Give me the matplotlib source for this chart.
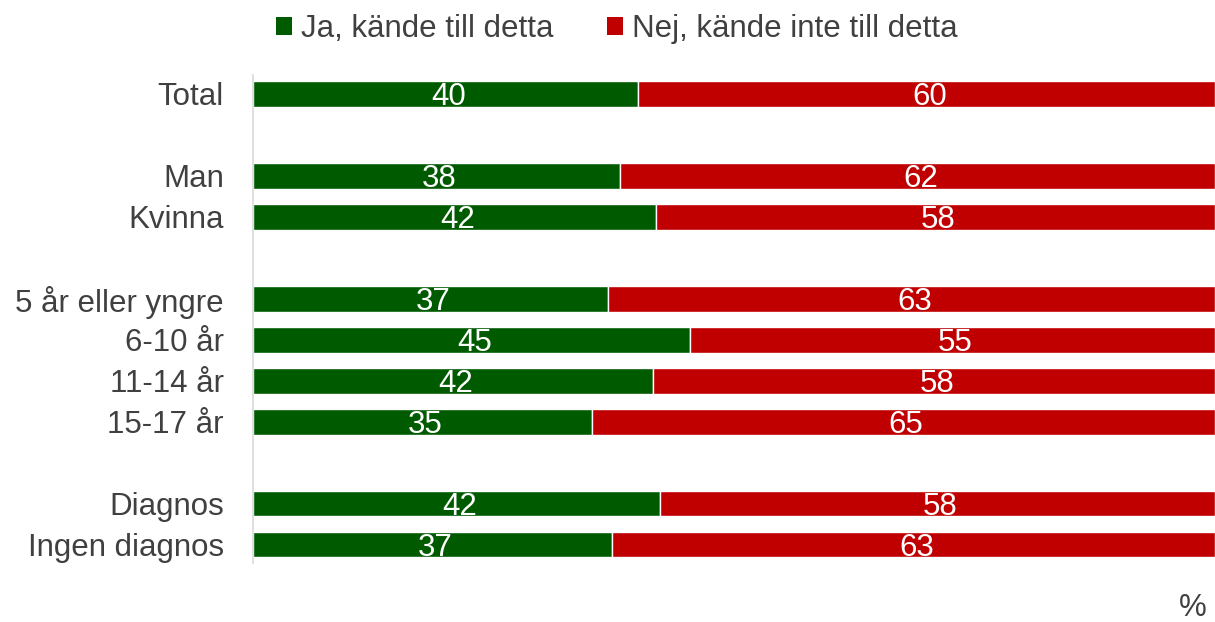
import matplotlib.pyplot as plt
from matplotlib.patches import Patch

plt.rcParams['font.family'] = ['Liberation Sans', 'DejaVu Sans']

categories = ["Total", "Man", "Kvinna", "5 år eller yngre", "6-10 år",
              "11-14 år", "15-17 år", "Diagnos", "Ingen diagnos"]
slots = [0, 2, 3, 5, 6, 7, 8, 10, 11]
ja = [40.0, 38.2, 41.9, 36.9, 45.4, 41.6, 35.2, 42.3, 37.3]
nej = [60.0, 61.8, 58.1, 63.1, 54.6, 58.4, 64.8, 57.7, 62.7]
ja_labels = ["40", "38", "42", "37", "45", "42", "35", "42", "37"]
nej_labels = ["60", "62", "58", "63", "55", "58", "65", "58", "63"]
series_names = ["Ja, kände till detta", "Nej, kände inte till detta"]

green = "#005A00"
red = "#C00000"
text_col = "#404040"
fs = 22.5

fig = plt.figure(figsize=(12.15, 6.22), dpi=100)
ax = fig.add_axes([253 / 1215, 1 - 563 / 622, 1 - 253 / 1215, (563 - 75) / 622])

b1 = ax.barh(slots, ja, height=0.63, color=green, edgecolor="white", linewidth=1)
b2 = ax.barh(slots, nej, left=ja, height=0.63, color=red, edgecolor="white", linewidth=1)

for bars, labels in ((b1, ja_labels), (b2, nej_labels)):
    for rect, lab in zip(bars, labels):
        ax.text(rect.get_x() + rect.get_width() / 2 + 0.3, rect.get_y() + rect.get_height() / 2 + 0.08,
                lab, ha="center", va="center", color="white", fontsize=fs)

ax.set_xlim(0, 100)
ax.set_ylim(11.45, -0.46)
ax.set_yticks(slots)
ax.set_yticklabels(categories, fontsize=fs, color=text_col)
ax.tick_params(axis="y", length=0, pad=21)
ax.set_xticks([])
for s in ("top", "right", "bottom"):
    ax.spines[s].set_visible(False)
ax.spines["left"].set_color("#D9D9D9")
ax.spines["left"].set_linewidth(1.2)

handles = [Patch(facecolor=green), Patch(facecolor=red)]
fig.legend(handles, series_names, loc="center", bbox_to_anchor=(617 / 1215, 1 - 29 / 622),
           ncol=2, frameon=False, fontsize=fs, labelcolor=text_col,
           handlelength=0.5, handleheight=0.5, handletextpad=0.3, columnspacing=1.7)

fig.text(1193 / 1215, 1 - 608 / 622, "%", ha="center", va="center", fontsize=fs, color=text_col)

fig.savefig("out.png", dpi=100)
